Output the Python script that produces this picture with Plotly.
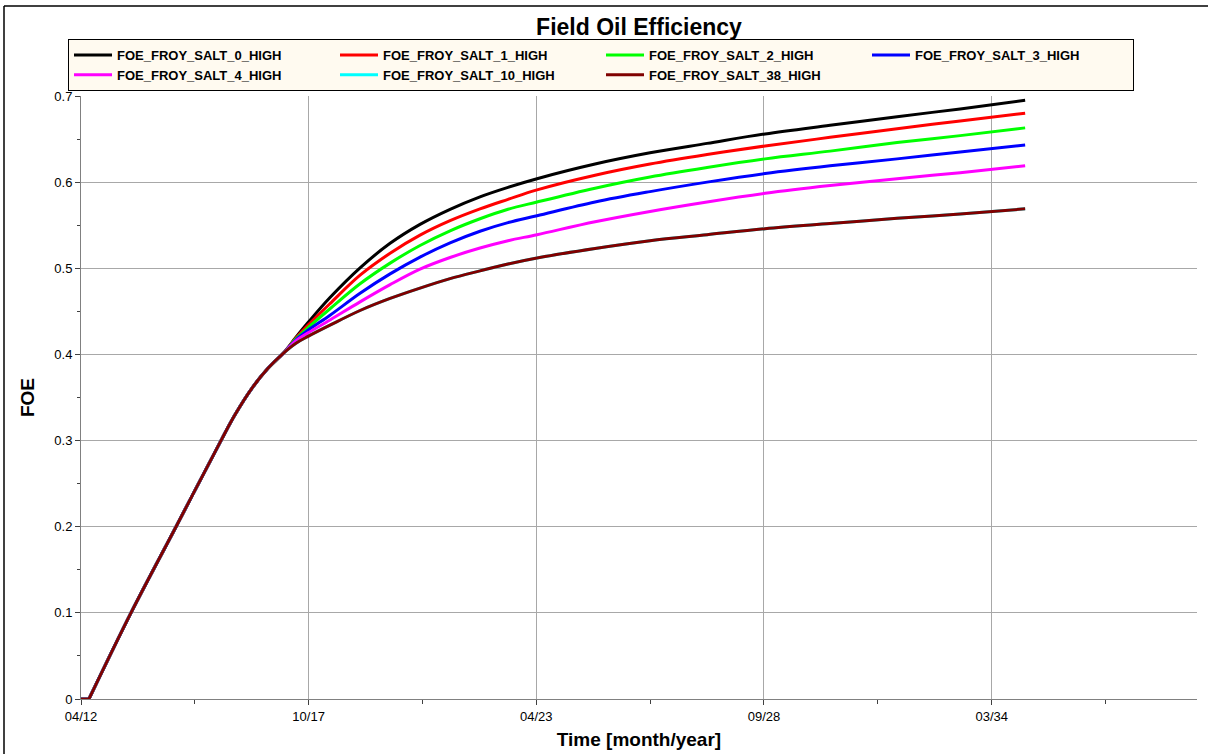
import plotly.graph_objects as go

# Flat start before production begins
dates_start = ["2012-04-25", "2012-07-04"]
foe_start = [0.0, 0.0]

# Shared ramp-up period (all cases identical)
dates_common = ["2012-07-04", "2013-07-08", "2014-08-08", "2015-09-07",
                "2016-01-08", "2016-06-06", "2016-10-24", "2017-03-05"]
foe_common = [0.0, 0.100, 0.200, 0.300, 0.330, 0.361, 0.384, 0.401]

# Period where the salt cases diverge
dates_split = ["2017-06-27", "2017-10-11", "2018-04-22", "2019-01-11", "2019-10-02",
               "2020-06-21", "2021-03-12", "2021-11-30", "2022-08-03", "2023-04-15",
               "2024-09-06", "2026-01-02", "2027-05-18", "2028-10-09", "2030-05-03",
               "2031-12-13", "2033-06-19", "2035-01-11"]

salt_0 = [0.420, 0.437, 0.466, 0.5005, 0.529, 0.551, 0.5685, 0.583, 0.594, 0.604,
          0.621, 0.634, 0.645, 0.656, 0.666, 0.676, 0.685, 0.695]
salt_1 = [0.419, 0.434, 0.459, 0.492, 0.5175, 0.5385, 0.5553, 0.569, 0.580, 0.591,
          0.608, 0.621, 0.632, 0.642, 0.652, 0.662, 0.671, 0.680]
salt_2 = [0.418, 0.431, 0.453, 0.482, 0.506, 0.5265, 0.5435, 0.5575, 0.5685, 0.577,
          0.593, 0.606, 0.617, 0.627, 0.636, 0.646, 0.654, 0.663]
salt_3 = [0.417, 0.428, 0.4455, 0.471, 0.4935, 0.513, 0.5295, 0.543, 0.553, 0.561,
          0.577, 0.589, 0.600, 0.610, 0.619, 0.627, 0.635, 0.643]
salt_4 = [0.416, 0.425, 0.440, 0.461, 0.481, 0.499, 0.5125, 0.5235, 0.532, 0.539,
          0.554, 0.566, 0.577, 0.587, 0.596, 0.604, 0.611, 0.619]
salt_10 = [0.413, 0.421, 0.434, 0.451, 0.465, 0.477, 0.488, 0.497, 0.505, 0.512,
           0.523, 0.532, 0.539, 0.546, 0.552, 0.558, 0.563, 0.569]
salt_38 = [0.413, 0.421, 0.434, 0.451, 0.465, 0.477, 0.488, 0.497, 0.505, 0.512,
           0.523, 0.532, 0.539, 0.546, 0.552, 0.558, 0.563, 0.569]

series_names = ["FOE_FROY_SALT_0_HIGH", "FOE_FROY_SALT_1_HIGH", "FOE_FROY_SALT_2_HIGH",
                "FOE_FROY_SALT_3_HIGH", "FOE_FROY_SALT_4_HIGH", "FOE_FROY_SALT_10_HIGH",
                "FOE_FROY_SALT_38_HIGH"]
series_values = [salt_0, salt_1, salt_2, salt_3, salt_4, salt_10, salt_38]
series_colors = ["#000000", "#FF0000", "#00FF00", "#0000FF", "#FF00FF", "#00FFFF", "#800000"]

# Axis ticks (month/year)
major_ticks = ["2012-04-25", "2017-10-16", "2023-04-08", "2028-09-29", "2034-03-23"]
minor_ticks = ["2015-01-19", "2020-07-12", "2026-01-03", "2031-06-27", "2036-12-19"]
x_range = ["2012-04-25", "2039-03-01"]

FONT = "Arial, Liberation Sans, sans-serif"

fig = go.Figure()
for name, vals, color in zip(series_names, series_values, series_colors):
    # flat pre-production part, same series, kept out of the legend
    fig.add_trace(go.Scatter(
        x=dates_start, y=foe_start, mode="lines", name=name, legendgroup=name,
        showlegend=False, line=dict(color=color, width=3),
    ))
    fig.add_trace(go.Scatter(
        x=dates_common + dates_split,
        y=foe_common + vals,
        mode="lines",
        name=name,
        legendgroup=name,
        line=dict(color=color, width=3, shape="spline", smoothing=1.0),
    ))

# plot-area geometry in pixels
W, H = 1208, 754
ML, MR, MT, MB = 81, 11, 96, 55
pw, ph = W - ML - MR, H - MT - MB


def px_x(px):
    return (px - ML) / pw


def px_y(py):
    return (H - MB - py) / ph


fig.update_layout(
    width=W, height=H,
    margin=dict(l=ML, r=MR, t=MT, b=MB, autoexpand=False),
    paper_bgcolor="white",
    plot_bgcolor="white",
    font=dict(family=FONT, color="#000000"),
    title=dict(text="<b>Field Oil Efficiency</b>", x=0.5, xref="paper",
               xanchor="center", y=1 - 27 / H, yanchor="middle",
               font=dict(size=23, family=FONT)),
    showlegend=True,
    legend=dict(
        orientation="h",
        x=px_x(68), xanchor="left",
        y=px_y(39), yanchor="top",
        bgcolor="#FFFAF0",
        bordercolor="#000000",
        borderwidth=1,
        entrywidth=213, entrywidthmode="pixels",
        itemwidth=38,
        tracegroupgap=0,
        font=dict(size=13, family=FONT, weight="bold"),
        traceorder="normal",
    ),
    xaxis=dict(
        type="date",
        range=x_range,
        tickmode="array",
        tickvals=major_ticks,
        tickformat="%m/%y",
        ticks="outside", ticklen=5, tickcolor="#404040",
        tickfont=dict(size=13, family=FONT),
        showgrid=True, gridcolor="#A8A8A8", gridwidth=1,
        showline=True, linecolor="#808080", linewidth=1,
        zeroline=False,
        minor=dict(tickmode="array", tickvals=minor_ticks, ticks="outside",
                   ticklen=4, tickcolor="#404040", showgrid=False),
        title=dict(text="<b>Time [month/year]</b>", font=dict(size=19, family=FONT),
                   standoff=10),
        automargin=False,
    ),
    yaxis=dict(
        range=[0, 0.7],
        tickmode="linear", tick0=0, dtick=0.1,
        ticks="outside", ticklen=5, tickcolor="#404040",
        tickfont=dict(size=13, family=FONT),
        showgrid=True, gridcolor="#A8A8A8", gridwidth=1,
        showline=True, linecolor="#808080", linewidth=1,
        zeroline=False,
        minor=dict(dtick=0.05, ticks="outside", ticklen=3, tickcolor="#404040",
                   showgrid=False),
        title=dict(text="<b>FOE</b>", font=dict(size=19, family=FONT), standoff=14),
        automargin=False,
    ),
    shapes=[
        dict(type="line", xref="paper", yref="paper",
             x0=px_x(4), x1=px_x(W), y0=px_y(6), y1=px_y(6),
             line=dict(color="#000000", width=1.5)),
        dict(type="line", xref="paper", yref="paper",
             x0=px_x(4), x1=px_x(4), y0=px_y(6), y1=px_y(H),
             line=dict(color="#000000", width=1.5)),
    ],
)

fig.write_html("out.html")
